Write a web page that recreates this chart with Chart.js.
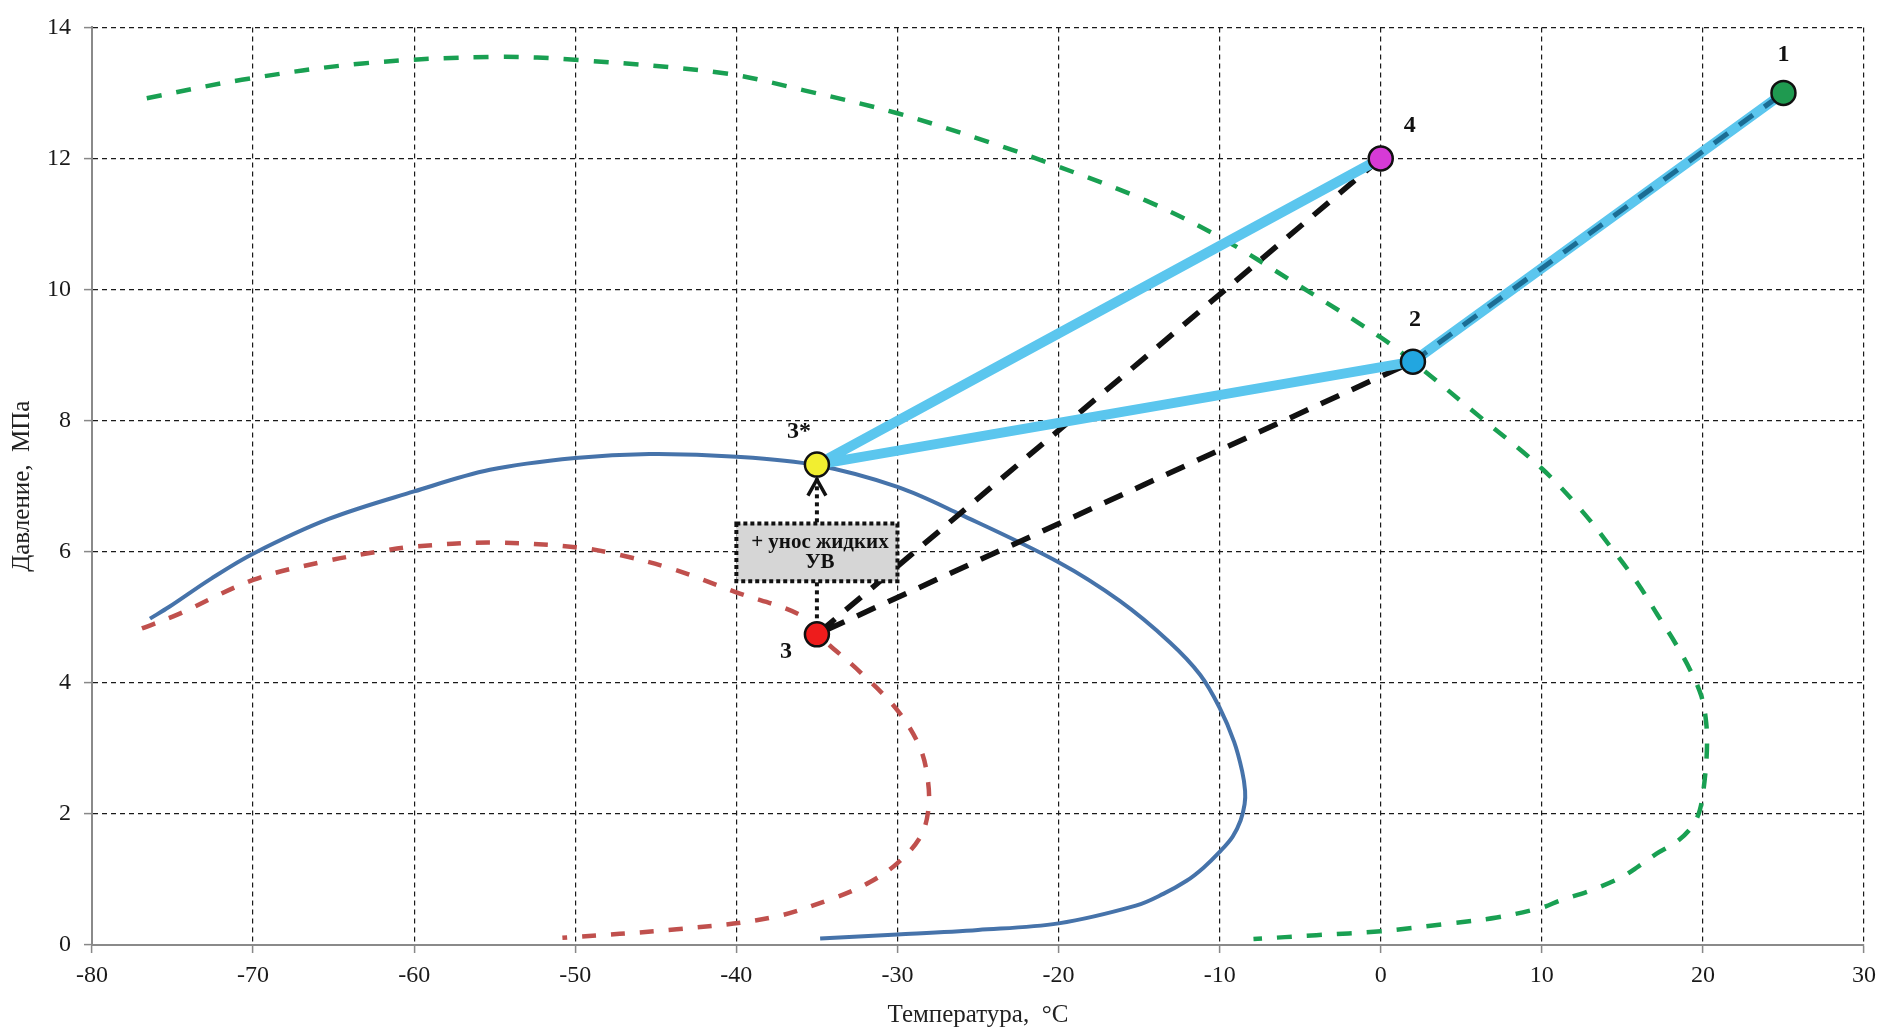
<!DOCTYPE html>
<html>
<head>
<meta charset="utf-8">
<script src="https://cdn.jsdelivr.net/npm/chart.js@4.4.1/dist/chart.umd.min.js"></script>
<style>
html,body{margin:0;padding:0;background:#fff;overflow:hidden}
canvas{display:block}
</style>
</head>
<body>
<canvas id="c" width="1892" height="1031"></canvas>
<script>
// ---------- DATA ----------
// Large dashed green envelope (temperature °C, pressure MPa)
const greenT = [-76.6, -70.7, -63.2, -55, -49.7, -40.75, -35.8, -30, -24.2, -20.6, -14.6, -10, -5.2, 0, 2, 6.2, 10, 12.5, 14.5, 16, 17.2, 18.3, 19.2, 19.9, 20.2, 20.25, 20.1, 19.8, 19.3, 18.4, 17.1, 16, 14.9, 13, 11.15, 10, 7.2, 4, 0, -4, -7.9];
const greenP = [12.92, 13.2, 13.45, 13.55, 13.5, 13.3, 13.04, 12.69, 12.24, 11.93, 11.36, 10.8, 10.08, 9.27, 8.9, 8.05, 7.27, 6.62, 6.0, 5.5, 5.03, 4.6, 4.2, 3.8, 3.4, 3.0, 2.5, 2.05, 1.8, 1.58, 1.39, 1.2, 1.03, 0.83, 0.68, 0.57, 0.42, 0.32, 0.21, 0.15, 0.09];

// Solid blue envelope
const blueT = [-76.4, -75.2, -72.6, -70, -65.3, -60, -55.3, -50, -45.4, -40, -35, -30, -26.1, -20, -16.2, -13.1, -11.2, -10, -9.1, -8.6, -8.42, -8.45, -8.7, -9.2, -10, -11, -12.05, -13.5, -15.2, -20, -25, -30, -34.8];
const blueP = [4.98, 5.16, 5.59, 5.97, 6.5, 6.92, 7.25, 7.43, 7.49, 7.45, 7.32, 6.99, 6.57, 5.84, 5.25, 4.62, 4.12, 3.62, 3.1, 2.65, 2.35, 2.15, 1.9, 1.65, 1.42, 1.18, 0.98, 0.78, 0.6, 0.33, 0.23, 0.16, 0.1];

// Dashed red envelope
const redT = [-76.9, -74.7, -70, -65.8, -61.8, -60, -55.3, -50, -47.4, -44, -40, -36, -35, -34.2, -32.3, -30, -28.6, -28.1, -28.1, -28.6, -30, -31.7, -33.8, -37.8, -43.7, -50.8];
const redP = [4.83, 5.04, 5.57, 5.84, 6.02, 6.08, 6.14, 6.07, 5.96, 5.74, 5.38, 5.03, 4.74, 4.57, 4.16, 3.58, 3.01, 2.49, 2.03, 1.64, 1.25, 0.96, 0.73, 0.42, 0.24, 0.11];

// Process points
const pointNames = ['1', '2', '3*', '3', '4'];
const pointT = [25, 2, -35, -35, 0];
const pointP = [13, 8.9, 7.33, 4.74, 12];

// Routes (indices into the point arrays)
const lightBlueRoute = [4, 2, 1, 0];   // 4 → 3* → 2 → 1
const blackDashRoute = [4, 3, 1];      // 4 → 3 → 2
const tealDashRoute = [1, 0];          // 2 → 1
const dottedRoute = [3, 2];            // 3 → 3*

// Annotation box (data coordinates) and its text
const boxT = [-40, -30];
const boxP = [5.55, 6.43];
const boxText = ['+ унос жидких', 'УВ'];

// Axis titles
const xTitle = 'Температура,  °С';
const yTitle = 'Давление,  МПа';

// ---------- HELPERS ----------
const toXY = (xs, ys) => xs.map((v, i) => ({x: v, y: ys[i]}));
const route = idx => idx.map(i => ({x: pointT[i], y: pointP[i]}));

const SERIF = "'Liberation Serif', 'Times New Roman', serif";
const markerColors = ['#1f9a50', '#22a6e0', '#f2ee30', '#ee1c1c', '#d63ad6'];
const labelOffsets = [[0, -38], [2, -42], [-18, -33], [-31, 17], [29, -33]];

const overlay = {
  id: 'overlay',
  afterDatasetsDraw(chart) {
    const {ctx, scales: {x, y}} = chart;
    ctx.save();
    // box
    const x0 = x.getPixelForValue(boxT[0]), x1 = x.getPixelForValue(boxT[1]);
    const y0 = y.getPixelForValue(boxP[1]), y1 = y.getPixelForValue(boxP[0]);
    ctx.fillStyle = '#d6d6d6';
    ctx.fillRect(x0, y0, x1 - x0, y1 - y0);
    ctx.setLineDash([4, 3]);
    ctx.lineWidth = 4;
    ctx.strokeStyle = '#111';
    ctx.strokeRect(x0, y0, x1 - x0, y1 - y0);
    ctx.setLineDash([]);
    ctx.fillStyle = '#111';
    ctx.font = 'bold 21px ' + SERIF;
    ctx.textAlign = 'center';
    ctx.textBaseline = 'middle';
    const cx = (x0 + x1) / 2 + 3, cy = (y0 + y1) / 2;
    ctx.fillText(boxText[0], cx, cy - 10);
    ctx.fillText(boxText[1], cx, cy + 10);
    // arrow head below 3*
    const ax = x.getPixelForValue(pointT[2]);
    const ay = y.getPixelForValue(pointP[2]) + 15;
    ctx.beginPath();
    ctx.moveTo(ax - 9, ay + 16);
    ctx.lineTo(ax, ay);
    ctx.lineTo(ax + 9, ay + 16);
    ctx.lineWidth = 3.5;
    ctx.strokeStyle = '#111';
    ctx.lineJoin = 'miter';
    ctx.stroke();
    // point labels
    ctx.font = 'bold 24px ' + SERIF;
    pointNames.forEach((n, i) => {
      const px = x.getPixelForValue(pointT[i]) + labelOffsets[i][0];
      const py = y.getPixelForValue(pointP[i]) + labelOffsets[i][1];
      ctx.fillText(n, px, py);
    });
    ctx.restore();
  }
};

const tickFont = {family: SERIF, size: 24};
const gridCfg = () => ({
  color: '#1a1a1a',
  lineWidth: 1.2,
  drawTicks: true,
  tickLength: 8,
  tickColor: '#888',
  tickWidth: 1.5,
  tickBorderDash: []
});

new Chart(document.getElementById('c'), {
  type: 'scatter',
  data: {
    datasets: [
      {
        label: 'points', data: toXY(pointT, pointP), order: 0,
        showLine: false, pointRadius: 12, pointHoverRadius: 12,
        pointBackgroundColor: markerColors, pointBorderColor: '#111', pointBorderWidth: 2.5
      },
      {
        label: 'teal', data: route(tealDashRoute), order: 1, showLine: true,
        borderColor: '#1b6d94', borderWidth: 5, borderDash: [17, 14], pointRadius: 0, borderCapStyle: 'butt'
      },
      {
        label: 'lightblue', data: route(lightBlueRoute), order: 2, showLine: true,
        borderColor: '#5bc6ee', borderWidth: 10, pointRadius: 0, borderJoinStyle: 'round', borderCapStyle: 'round'
      },
      {
        label: 'black', data: route(blackDashRoute), order: 3, showLine: true,
        borderColor: '#111', borderWidth: 5.5, borderDash: [20, 14], pointRadius: 0
      },
      {
        label: 'dotted', data: route(dottedRoute), order: 4, showLine: true,
        borderColor: '#111', borderWidth: 4, borderDash: [4, 4], pointRadius: 0
      },
      {
        label: 'blue', data: toXY(blueT, blueP), order: 5, showLine: true,
        borderColor: '#4673aa', borderWidth: 4, pointRadius: 0, tension: 0.35
      },
      {
        label: 'red', data: toXY(redT, redP), order: 6, showLine: true,
        borderColor: '#c0504d', borderWidth: 4.5, borderDash: [14, 15], pointRadius: 0, tension: 0.35
      },
      {
        label: 'green', data: toXY(greenT, greenP), order: 7, showLine: true,
        borderColor: '#19a052', borderWidth: 4.5, borderDash: [15, 15], pointRadius: 0, tension: 0.35
      }
    ]
  },
  options: {
    responsive: false,
    animation: false,
    events: [],
    layout: {padding: {left: 0, right: 28, top: 20, bottom: 0}},
    plugins: {legend: {display: false}, tooltip: {enabled: false}},
    scales: {
      x: {
        type: 'linear', min: -80, max: 30,
        ticks: {stepSize: 10, font: tickFont, color: '#1a1a1a', padding: 8, maxRotation: 0},
        grid: gridCfg(),
        border: {color: '#8a8a8a', width: 2, dash: [5, 4]},
        title: {display: true, text: xTitle, font: {family: SERIF, size: 25}, color: '#222', padding: {top: 0, bottom: 1}},
        afterFit: s => { s.height = 86; }
      },
      y: {
        type: 'linear', min: 0, max: 14,
        ticks: {stepSize: 2, font: tickFont, color: '#1a1a1a', padding: 13},
        grid: gridCfg(),
        border: {color: '#8a8a8a', width: 2, dash: [5, 4]},
        title: {display: true, text: yTitle, font: {family: SERIF, size: 25}, color: '#222', padding: {top: 7, bottom: 0}},
        afterFit: s => { s.width = 92; }
      }
    }
  },
  plugins: [overlay]
});
</script>
</body>
</html>
